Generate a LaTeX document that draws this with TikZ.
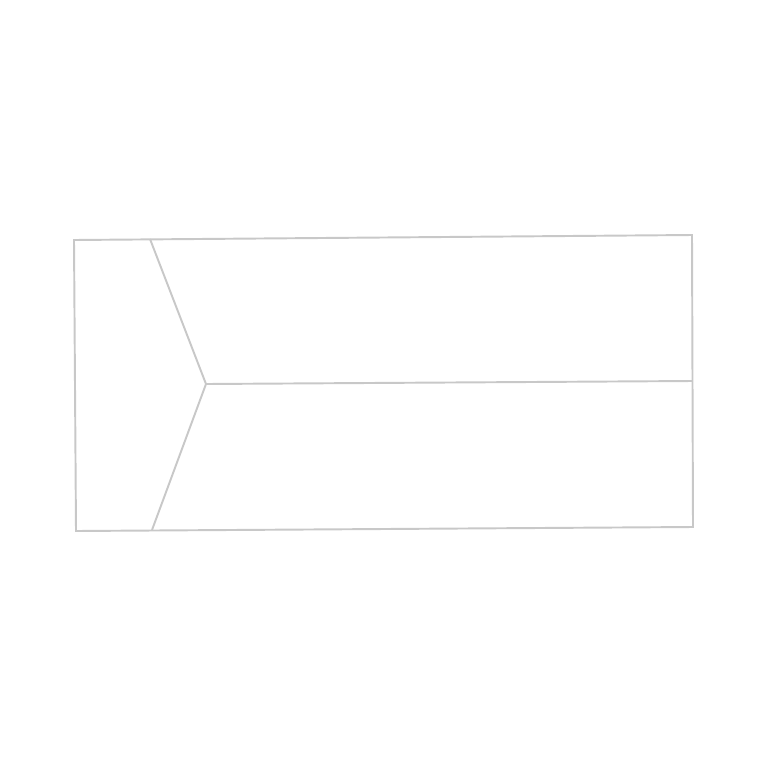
\documentclass[tikz,border=0pt]{standalone}
\usepackage{tikz}
\usetikzlibrary{calc, positioning}
\definecolor{edgegray}{RGB}{200,200,200}
\tikzstyle{edge}=[draw=edgegray, line width=1.1pt, line join=miter]
\tikzstyle{pt}=[inner sep=0pt, shape=coordinate]

\begin{document}
\begin{tikzpicture}[x=0.02cm, y=-0.02cm]
\useasboundingbox (0,0) rectangle (768,768);
% the outer corners
\node[pt] (TL) at (74, 240) {};
\node[pt] (TR) at (692, 235) {};
\node[pt] (BR) at (693, 527) {};
\node[pt] (BL) at (76, 531) {};
% the inner vertices
\node[pt] (T) at (150, 239) {};
\node[pt] (B) at (152, 530) {};
\node[pt] (C) at (206, 384) {};
\node[pt] (R) at (692.5, 381) {};
% the edges
\draw[edge] (TL) -- (TR) -- (BR) -- (BL) -- cycle;
\draw[edge] (T) -- (C) -- (B);
\draw[edge] (C) -- (R);
\end{tikzpicture}
\end{document}
